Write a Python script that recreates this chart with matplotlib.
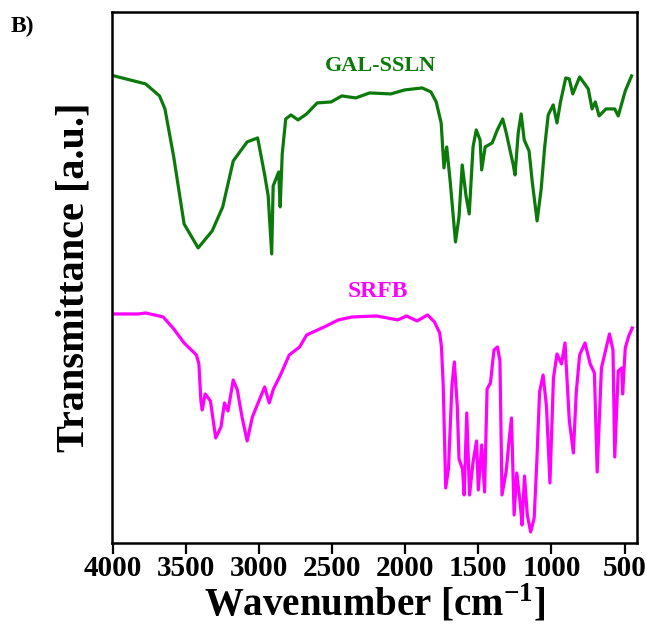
import matplotlib
matplotlib.use("Agg")
import matplotlib.pyplot as plt

plt.rcParams['font.family'] = ['Liberation Serif', 'DejaVu Serif']
plt.rcParams['font.weight'] = 'bold'
plt.rcParams['mathtext.fontset'] = 'custom'
plt.rcParams['mathtext.rm'] = 'Liberation Serif:bold'
plt.rcParams['mathtext.bf'] = 'Liberation Serif:bold'

# GAL-SSLN spectrum (wavenumber cm-1, transmittance a.u.)
gal_wn = [3990, 3775, 3680, 3643, 3583, 3512, 3416, 3320, 3248, 3176, 3081, 3009,
          2961, 2937, 2913, 2903, 2865, 2855, 2841, 2817, 2781, 2733, 2674, 2602,
          2506, 2434, 2338, 2243, 2099, 2003, 1884, 1824, 1788, 1754, 1735, 1716,
          1692, 1656, 1632, 1610, 1584, 1562, 1536, 1514, 1488, 1477, 1453, 1405,
          1370, 1333, 1309, 1261, 1249, 1227, 1207, 1186, 1153, 1131, 1098, 1070,
          1046, 1022, 988, 962, 938, 902, 878, 854, 807, 748, 722, 700, 674, 627,
          567, 543, 495, 452]
gal_t = [467, 459, 447, 434, 386, 319, 295, 312, 336, 382, 401, 405,
         368, 347, 289, 357, 371, 336, 389, 424, 428, 423, 429, 440,
         441, 447, 445, 450, 449, 453, 455, 451, 441, 420, 375, 396,
         361, 301, 326, 378, 347, 329, 396, 413, 403, 373, 396, 400,
         413, 424, 410, 378, 368, 410, 429, 403, 392, 361, 322, 354,
         396, 428, 438, 420, 441, 465, 464, 449, 466, 454, 434, 441, 427, 434,
         434, 427, 452, 467]

# SRFB spectrum
srfb_wn = [3990, 3823, 3775, 3655, 3583, 3512, 3428, 3411, 3397, 3388, 3368, 3332,
           3296, 3260, 3236, 3212, 3176, 3148, 3116, 3081, 3045, 3009, 2961, 2930,
           2901, 2853, 2793, 2722, 2674, 2554, 2458, 2362, 2195, 2051, 1991, 1919,
           1847, 1800, 1764, 1752, 1740, 1723, 1704, 1680, 1664, 1644, 1632, 1608,
           1597, 1579, 1560, 1536, 1512, 1500, 1477, 1457, 1440, 1417, 1393, 1369,
           1352, 1338, 1309, 1290, 1273, 1255, 1237, 1213, 1201, 1184, 1165, 1142,
           1118, 1099, 1081, 1057, 1034, 1010, 986, 962, 931, 907, 878, 850, 830,
           807, 770, 735, 706, 687, 658, 603, 579, 567, 543, 519, 513, 495, 471, 447]
srfb_t = [229, 229, 230, 226, 214, 200, 188, 179, 142, 133, 149, 142,
          105, 116, 140, 132, 163, 153, 126, 102, 126, 139, 156, 140,
          154, 168, 188, 196, 208, 216, 223, 226, 227, 223, 227, 222,
          228, 221, 210, 196, 158, 55, 74, 158, 181, 137, 84, 74,
          48, 130, 48, 81, 102, 53, 98, 51, 154, 160, 193, 196,
          182, 48, 72, 102, 125, 28, 70, 39, 18, 67, 28, 11,
          25, 84, 151, 168, 137, 60, 165, 189, 179, 200, 123, 90, 151,
          188, 200, 179, 170, 71, 175, 209, 193, 86, 172, 175, 149, 195, 207, 215]

labels = ["GAL-SSLN", "SRFB"]
colors = ["#0b7a0b", "#ff00ff"]
xticks = [4000, 3500, 3000, 2500, 2000, 1500, 1000, 500]

fig = plt.figure(figsize=(6.46, 6.27), dpi=100)
ax = fig.add_axes([0.1734, 0.134, 0.8126, 0.847])

ax.plot(gal_wn, gal_t, color=colors[0], lw=2.3)
ax.plot(srfb_wn, srfb_t, color=colors[1], lw=2.3)

ax.text(2171, 477, labels[0], color=colors[0], fontsize=16, fontweight='bold',
        ha='center', va='center')
ax.text(2185, 251, labels[1], color=colors[1], fontsize=17, fontweight='bold',
        ha='center', va='center')

ax.set_xlim(4005, 415)
ax.set_ylim(0, 531)
ax.set_xticks(xticks)
ax.set_xticklabels([str(t) for t in xticks], fontsize=21, fontweight='bold')
ax.set_yticks([])
ax.tick_params(axis='x', direction='out', length=8, width=1.6, pad=1)
for s in ax.spines.values():
    s.set_linewidth(1.8)

ax.set_xlabel("Wavenumber [cm$^{\\mathrm{-1}}$]", fontsize=28, fontweight='bold', labelpad=0)
ax.set_ylabel("Transmittance [a.u.]", fontsize=29, fontweight='bold', labelpad=14)

fig.text(0.016, 0.958, "B)", fontsize=17, fontweight='bold', ha='left', va='center')

fig.savefig("out.png", dpi=100)
